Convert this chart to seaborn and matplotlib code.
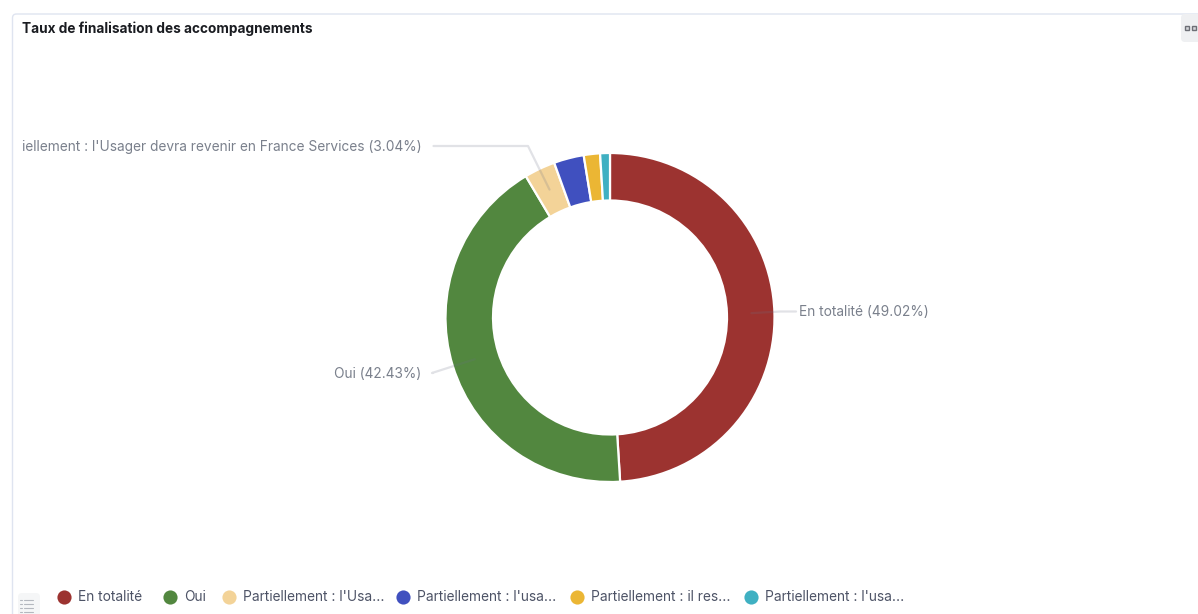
import numpy as np
import matplotlib
matplotlib.use("Agg")
import matplotlib.pyplot as plt
from matplotlib.patches import FancyBboxPatch, Rectangle
import seaborn as sns

# Completion rates of the support sessions
categories = ["En totalité", "Oui", "Partiellement : l'Usa...", "Partiellement : l'usa...",
              "Partiellement : il res...", "Partiellement : l'usa..."]
shares = [49.02, 42.43, 3.04, 2.95, 1.6, 0.96]
colors = ["#9c3330", "#52873f", "#f3d398", "#4050bf", "#ebb634", "#3fb0c2"]
title = "Taux de finalisation des accompagnements"
callouts = {
    0: ("En totalité (49.02%)", "left"),
    1: ("Oui (42.43%)", "right"),
    2: ("iellement : l'Usager devra revenir en France Services (3.04%)", "right"),
}

W, H = 1198, 614
CX, CY, R = 610, 317.5, 164.5
RING = 47.5 / 164.5

sns.set_theme(style="white")
plt.rcParams["font.family"] = ["Inter", "DejaVu Sans"]
palette = sns.color_palette(colors)

fig = plt.figure(figsize=(W / 100, H / 100), dpi=100, facecolor="white")

# Donut axes sized so that one data unit equals the outer radius
pie_ax = fig.add_axes([(CX - R) / W, 1 - (CY + R) / H, 2 * R / W, 2 * R / H])
wedges, _ = pie_ax.pie(shares, colors=palette, startangle=90, counterclock=False, radius=1,
                       wedgeprops=dict(width=RING, edgecolor="white", linewidth=1.6))
pie_ax.set_xlim(-1, 1)
pie_ax.set_ylim(-1, 1)

# Overlay in pixel units for the panel frame, callouts and legend
ui = fig.add_axes([0, 0, 1, 1], facecolor="none")
ui.set_xlim(0, W)
ui.set_ylim(H, 0)
ui.axis("off")

ui.add_patch(FancyBboxPatch((12.5, 14), W + 30, H + 30, boxstyle="round,pad=0,rounding_size=4",
                            fc="none", ec="#dfe4f0", lw=1.0, clip_on=True))
ui.text(22, 28.5, title, fontsize=9.8, fontweight="bold", color="#1a1c21", va="center", ha="left")

# Top-right panel handle with its two small squares
ui.add_patch(FancyBboxPatch((1181, 14), 30, 28, boxstyle="round,pad=0,rounding_size=4",
                            fc="#eff0f2", ec="none"))
for x in (1185, 1192):
    ui.add_patch(Rectangle((x, 26), 4, 4, fc="#d5d6da", ec="#6d6f76", lw=1))

# Bottom-left legend toggle with its list glyph
ui.add_patch(FancyBboxPatch((18, 593), 22, 30, boxstyle="round,pad=0,rounding_size=4",
                            fc="#f5f6f7", ec="none"))
for y in (600, 604, 608, 612):
    ui.plot([20, 22], [y, y], color="#b4b8bf", lw=0.8)
    ui.plot([24, 33], [y, y], color="#b4b8bf", lw=0.8)

# Leader lines run from the middle of the ring to each callout
leader_color = (0.42, 0.44, 0.52, 0.20)
mid_r = R - 23
label_y = {0: 312, 1: 373.5, 2: 146.5}
label_x = {0: 799, 1: 421, 2: 421.5}
elbow_x = {0: 780, 1: 432, 2: 528}
for i, (text, side) in callouts.items():
    a = np.deg2rad((wedges[i].theta1 + wedges[i].theta2) / 2)
    start = (CX + mid_r * np.cos(a), CY - mid_r * np.sin(a))
    end_x = label_x[i] + (-3 if side == "left" else 12)
    ui.plot([start[0], elbow_x[i], end_x], [start[1], label_y[i] - 0.5, label_y[i] - 0.5],
            color=leader_color, lw=1.6, solid_joinstyle="round")
    ui.text(label_x[i], label_y[i], text, fontsize=9.88, color="#7a808c", ha=side, va="center")

# Legend row: a dot and a label per slice, the long labels shortened to a fixed slot
legend_dot_x = [64, 170, 229, 403, 577, 751]
legend_y = 597
for name, colour, x in zip(categories, palette, legend_dot_x):
    ui.scatter([x], [legend_y], s=104, color=[colour], linewidths=0)
    ui.text(x + 14, legend_y, name, fontsize=9.9, color="#4d5366", ha="left", va="center")

fig.savefig("out.png", dpi=100)
